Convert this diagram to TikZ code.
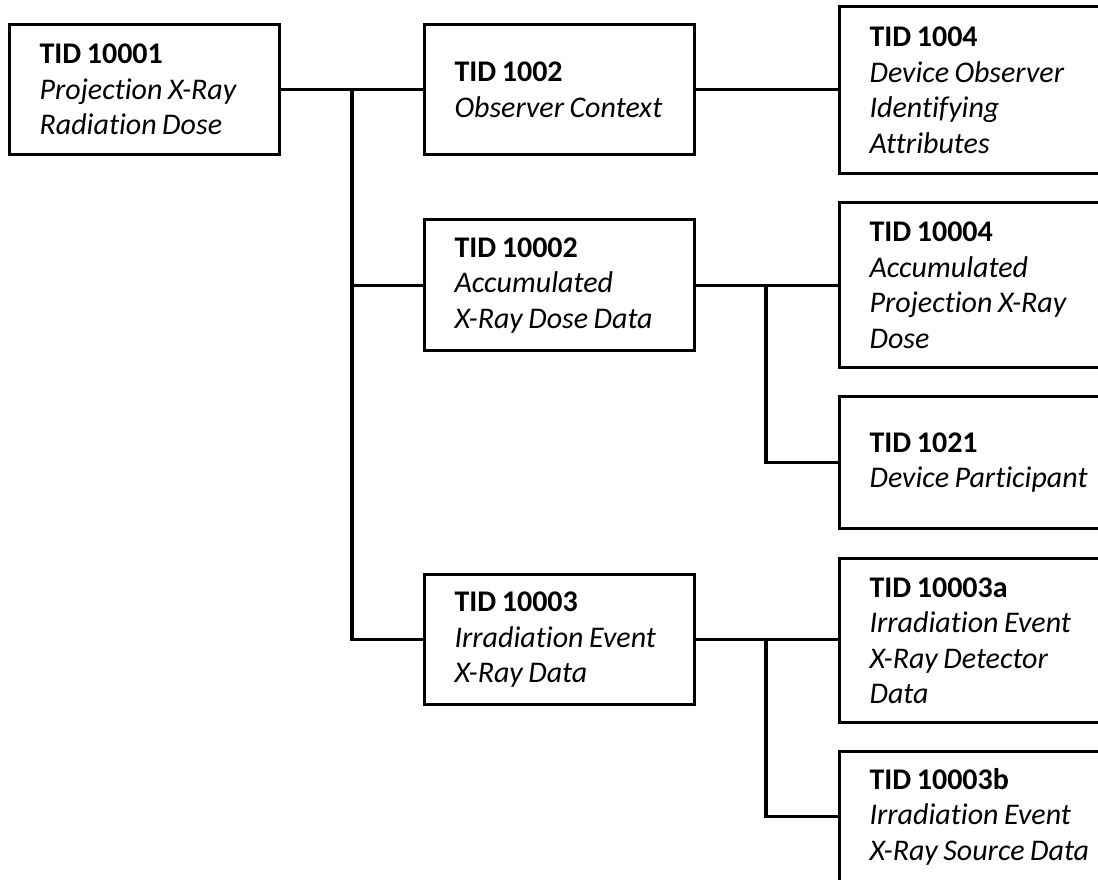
\documentclass[tikz,border=0pt]{standalone}
\usepackage{fontspec}
\setmainfont{Carlito}[Ligatures=NoCommon]
\newcommand\bl[1]{\mbox{\textbf{#1}}}
\newcommand\il[1]{\mbox{\textit{#1}}}
\newcommand\boxfont{\fontsize{30}{35.5}\selectfont}
\newcommand\tightspace{\spaceskip=5.5pt\relax}
\begin{document}
\begin{tikzpicture}[x=1pt,y=-1pt,
  box/.style={draw=black, line width=3.2pt, rectangle, inner xsep=30pt, inner ysep=0pt,
    align=left, anchor=north west, font=\boxfont, execute at begin node=\tightspace},
  midbox/.style={box, text width=210pt, minimum height=130pt},
  rbox/.style={box, text width=242pt},
  link/.style={draw=black, line width=3.2pt}]
\useasboundingbox (0,0) rectangle (1098,879);
\fill[white] (0,0) rectangle (1098,879);
\clip (0,0) rectangle (1098,879);

\node[midbox] (A) at (8,23) {\bl{TID 10001}\\\il{Projection X-Ray}\\\il{Radiation Dose}};
\node[midbox] (B) at (423,23) {\bl{TID 1002}\\\il{Observer Context}};
\node[midbox, minimum height=131pt] (D) at (423,218) {\bl{TID 10002}\\\il{Accumulated}\\\il{X-Ray Dose Data}};
\node[midbox] (G) at (423,573) {\bl{TID 10003}\\\il{Irradiation Event}\\\il{X-Ray Data}};

\node[rbox, minimum height=167pt] (C) at (838,5) {\bl{TID 1004}\\\il{Device Observer}\\\il{Identifying}\\\il{Attributes}};
\node[rbox, minimum height=165pt] (E) at (838,201) {\bl{TID 10004}\\\il{Accumulated}\\\il{Projection X-Ray}\\\il{Dose}};
\node[rbox, minimum height=132pt] (F) at (838,395) {\bl{TID 1021}\\\il{Device Participant}};
\node[rbox, minimum height=164pt] (H) at (838,557) {\bl{TID 10003a}\\\il{Irradiation Event}\\\il{X-Ray Detector}\\\il{Data}};
\node[rbox, minimum height=130pt] (I) at (838,750) {\bl{TID 10003b}\\\il{Irradiation Event}\\\il{X-Ray Source Data}};

\coordinate (j1) at (352,88);
\coordinate (j2) at (766,283.5);
\coordinate (j3) at (766,638);

\draw[link] (A.east) -- (B.west);
\draw[link] (B.east) -- (B.east -| C.west);
\draw[link] (j1) |- (D.west);
\draw[link] (j1) |- (G.west);
\draw[link] (D.east) -- (D.east -| E.west);
\draw[link] (j2) |- (F.west);
\draw[link] (G.east) -- (G.east -| H.west);
\draw[link] (j3) |- (I.west);
\end{tikzpicture}
\end{document}
